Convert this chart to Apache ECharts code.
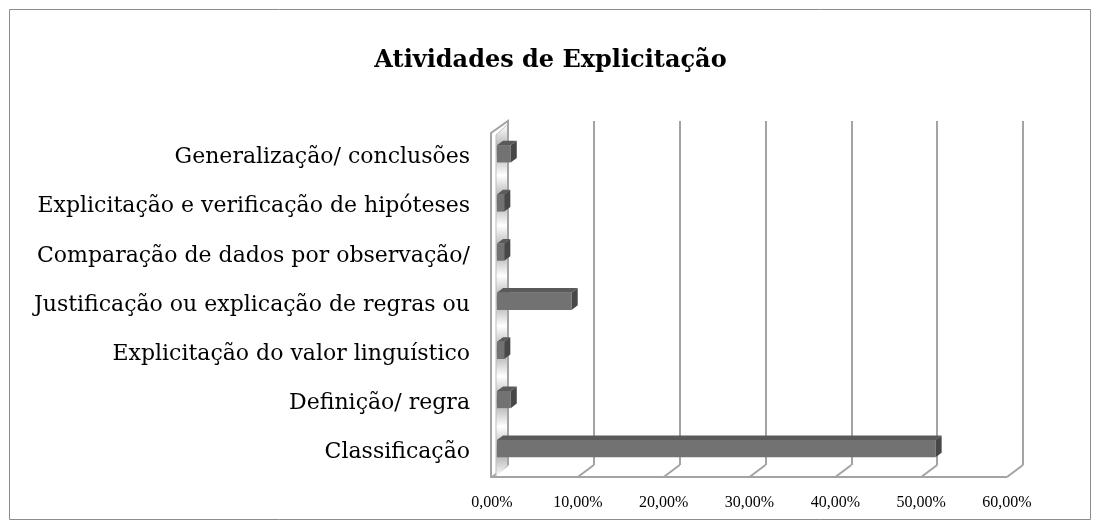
<!DOCTYPE html>
<html>
<head>
<meta charset="utf-8">
<script src="https://cdn.jsdelivr.net/npm/echarts@6/dist/echarts.min.js"></script>
<style>
  html, body { margin: 0; padding: 0; background: #fff; }
  #main { width: 1101px; height: 525px; }
</style>
</head>
<body>
<div id="main"></div>
<script>
  // categories bottom -> top, as the category axis draws them
  const categories = [
    'Classificação',
    'Definição/ regra',
    'Explicitação do valor linguístico',
    'Justificação ou explicação de regras ou',
    'Comparação de dados por observação/',
    'Explicitação e verificação de hipóteses',
    'Generalização/ conclusões'
  ];
  const values = [0.511, 0.016, 0.0085, 0.087, 0.0085, 0.0085, 0.016];
  const xTicks = [0, 0.1, 0.2, 0.3, 0.4, 0.5, 0.6];
  const tickLabels = ['0,00%', '10,00%', '20,00%', '30,00%', '40,00%', '50,00%', '60,00%'];

  // oblique depth of the 3d box (pixels from front plane to back plane)
  const DX = 16, DY = -12;
  const Z1 = 0.31, Z2 = 0.69;
  const GRID = '#a3a3a3';

  let myChart = echarts.init(document.getElementById('main'));

  function renderFrame(params, api) {
    const cs = params.coordSys;
    const p = api.coord([api.value(0), 0]);
    const yB = cs.y + cs.height;
    const kids = [{
      type: 'line',
      shape: { x1: p[0], y1: yB, x2: p[0] + DX, y2: yB + DY },
      style: { stroke: GRID, lineWidth: 2 }
    }];
    if (params.dataIndex === 0) {
      const x0 = cs.x, yT = cs.y;
      const stops = [];
      const n = categories.length;
      for (let k = 0; k <= n * 2; k++) {
        stops.push({ offset: k / (n * 2), color: k % 2 ? '#a8a8a8' : '#ffffff' });
      }
      kids.push({
        type: 'polygon',
        shape: { points: [[x0 + 4, yT + 2], [x0 + DX, yT + DY + 3], [x0 + DX, yB + DY], [x0 + 4, yB]] },
        style: { fill: new echarts.graphic.LinearGradient(0, yT - 8, 0, yB, stops, true) }
      });
      kids.push({
        type: 'polyline',
        shape: { points: [[x0 - 1, yB + 1], [x0 - 1, yT], [x0 + DX, yT + DY], [x0 + DX, yB + DY]] },
        style: { stroke: GRID, lineWidth: 2, fill: null }
      });
      kids.push({
        type: 'polyline',
        shape: { points: [[x0 + 4, yB], [x0 + 4, yT + 2], [x0 + DX, yT + DY + 3]] },
        style: { stroke: '#bdbdbd', lineWidth: 1, fill: null }
      });
      kids.push({
        type: 'line',
        shape: { x1: x0 - 1, y1: yB, x2: cs.x + cs.width, y2: yB },
        style: { stroke: GRID, lineWidth: 2 }
      });
    }
    return { type: 'group', children: kids };
  }

  function renderBar(params, api) {
    const cat = api.value(1);
    const s = api.coord([0, cat]);
    const e = api.coord([api.value(0), cat]);
    const h = api.size([0, 1])[1] * 0.35;
    const xl = s[0] + DX * Z1, xr = e[0] + DX * Z1;
    const yt = s[1] - h / 2 + DY * Z1, yb = yt + h;
    const ddx = DX * (Z2 - Z1), ddy = DY * (Z2 - Z1);
    return {
      type: 'group',
      children: [
        {
          type: 'rect',
          shape: { x: xl, y: yt, width: xr - xl, height: h },
          style: { fill: '#727272' }
        },
        {
          type: 'polygon',
          shape: { points: [[xl, yt], [xr, yt], [xr + ddx, yt + ddy], [xl + ddx, yt + ddy]] },
          style: { fill: '#5a5a5a' }
        },
        {
          type: 'polygon',
          shape: { points: [[xr, yt], [xr + ddx, yt + ddy], [xr + ddx, yb + ddy], [xr, yb]] },
          style: { fill: '#474747' }
        }
      ]
    };
  }

  let option = {
    animation: false,
    title: {
      text: 'Atividades de Explicitação',
      left: 'center',
      top: 44,
      textStyle: {
        fontFamily: 'DejaVu Serif',
        fontWeight: 'bold',
        fontSize: 24,
        color: '#000'
      }
    },
    graphic: [{
      type: 'rect',
      shape: { x: 9.5, y: 9.5, width: 1081, height: 510 },
      style: { fill: null, stroke: '#8c8c8c', lineWidth: 1 },
      z: -1
    }],
    grid: [
      { left: 492, right: 94, top: 133, bottom: 48 },
      { left: 508, right: 78, top: 121, bottom: 60 }
    ],
    xAxis: [
      {
        type: 'value',
        gridIndex: 0,
        min: 0,
        max: 0.6,
        interval: 0.1,
        axisLine: { show: false },
        axisTick: { show: false },
        splitLine: { show: false },
        axisLabel: {
          margin: 18,
          fontFamily: 'Liberation Serif',
          fontSize: 16,
          color: '#000',
          formatter: function (v) { return tickLabels[Math.round(v * 10)]; }
        }
      },
      {
        type: 'value',
        gridIndex: 1,
        min: 0,
        max: 0.6,
        interval: 0.1,
        axisLine: { show: false },
        axisTick: { show: false },
        axisLabel: { show: false },
        splitLine: { show: true, lineStyle: { color: GRID, width: 2 } }
      }
    ],
    yAxis: [
      {
        type: 'category',
        gridIndex: 0,
        data: categories,
        axisLine: { show: false },
        axisTick: { show: false },
        axisLabel: {
          margin: 22,
          fontFamily: 'DejaVu Serif',
          fontSize: 22,
          color: '#000'
        }
      },
      {
        type: 'category',
        gridIndex: 1,
        data: categories,
        show: false
      }
    ],
    series: [
      {
        name: 'frame',
        type: 'custom',
        xAxisIndex: 0,
        yAxisIndex: 0,
        z: 1,
        silent: true,
        renderItem: renderFrame,
        data: xTicks.map(v => [v, 0])
      },
      {
        name: 'Atividades',
        type: 'custom',
        xAxisIndex: 0,
        yAxisIndex: 0,
        z: 3,
        renderItem: renderBar,
        data: values.map((v, i) => [v, i])
      }
    ]
  };

  myChart.setOption(option);
</script>
</body>
</html>
